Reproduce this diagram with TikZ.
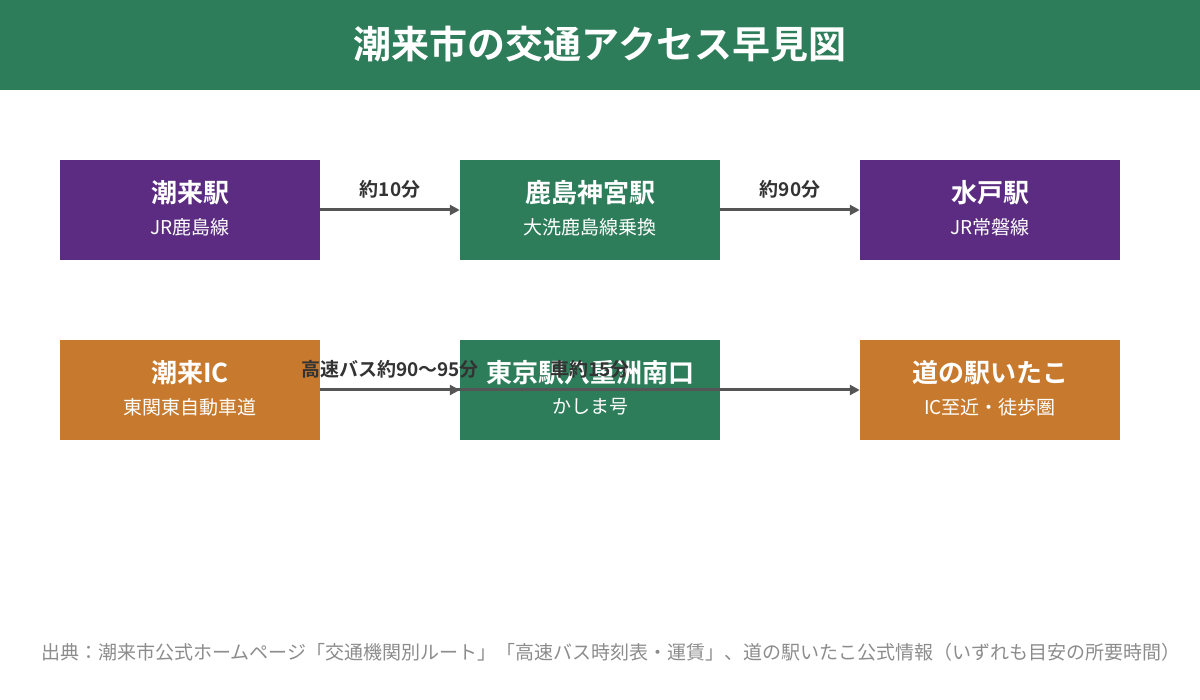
\documentclass[tikz,border=0pt]{standalone}
\usepackage{fontspec}
\setmainfont{Noto Sans CJK JP}
\newfontfamily\bfj{Noto Sans CJK JP Bold}
\usetikzlibrary{arrows.meta}
\definecolor{grn}{HTML}{2E7D5A}
\definecolor{pur}{HTML}{5B2C82}
\definecolor{org}{HTML}{C77A2E}
\definecolor{arr}{HTML}{555555}
\begin{document}
\begin{tikzpicture}[x=1pt,y=-1pt,
 box/.style={minimum width=260pt,minimum height=100pt,inner sep=0,fill=#1,text=white,align=center},
 ttl/.style={text=white,font=\bfj\fontsize{26}{30}\selectfont},
 sub/.style={text=white,font=\fontsize{19}{22}\selectfont},
 lab/.style={text=black!80,font=\bfj\fontsize{19}{22}\selectfont},
 con/.style={draw=arr,line width=3pt,-{Triangle[length=10pt,width=10pt]}}]
\useasboundingbox (0,0) rectangle (1200,700);
\fill[grn] (0,0) rectangle (1200,90);
\node[text=white,font=\bfj\fontsize{38}{44}\selectfont] (title) at (600,44) {潮来市の交通アクセス早見図};
\node[box=pur] (a) at (190,210) {};
\node[box=grn] (b) at (590,210) {};
\node[box=pur] (c) at (990,210) {};
\node[box=org] (d) at (190,390) {};
\node[box=grn] (e) at (590,390) {};
\node[box=org] (f) at (990,390) {};
\node[ttl] (at) at (190,193) {潮来駅}; \node[sub] (as) at (190,227) {JR鹿島線};
\node[ttl] (bt) at (590,193) {鹿島神宮駅}; \node[sub] (bs) at (590,227) {大洗鹿島線乗換};
\node[ttl] (ct) at (990,193) {水戸駅}; \node[sub] (cs) at (990,227) {JR常磐線};
\node[ttl] (dt) at (190,373) {潮来IC}; \node[sub] (ds) at (190,407) {東関東自動車道};
\node[ttl] (et) at (590,373) {東京駅八重洲南口}; \node[sub] (es) at (590,407) {かしま号};
\node[ttl] (ft) at (990,373) {道の駅いたこ}; \node[sub] (fs) at (990,407) {IC至近・徒歩圏};
\draw[con] (a) -- (b);
\draw[con] (b) -- (c);
\draw[con] (d) -- (e);
\draw[con] (d.east) -- (f.west);
\node[lab] (l1) at (390,189) {約10分};
\node[lab] (l2) at (790,189) {約90分};
\node[lab] (l3) at (390,369) {高速バス約90〜95分};
\node[lab] (l4) at (590,369) {車約15分};
\node[anchor=west,text=black!45,font=\fontsize{19}{22}\selectfont] (src) at (38,652) {出典：潮来市公式ホームページ「交通機関別ルート」「高速バス時刻表・運賃」、道の駅いたこ公式情報（いずれも目安の所要時間）};
\end{tikzpicture}
\end{document}
